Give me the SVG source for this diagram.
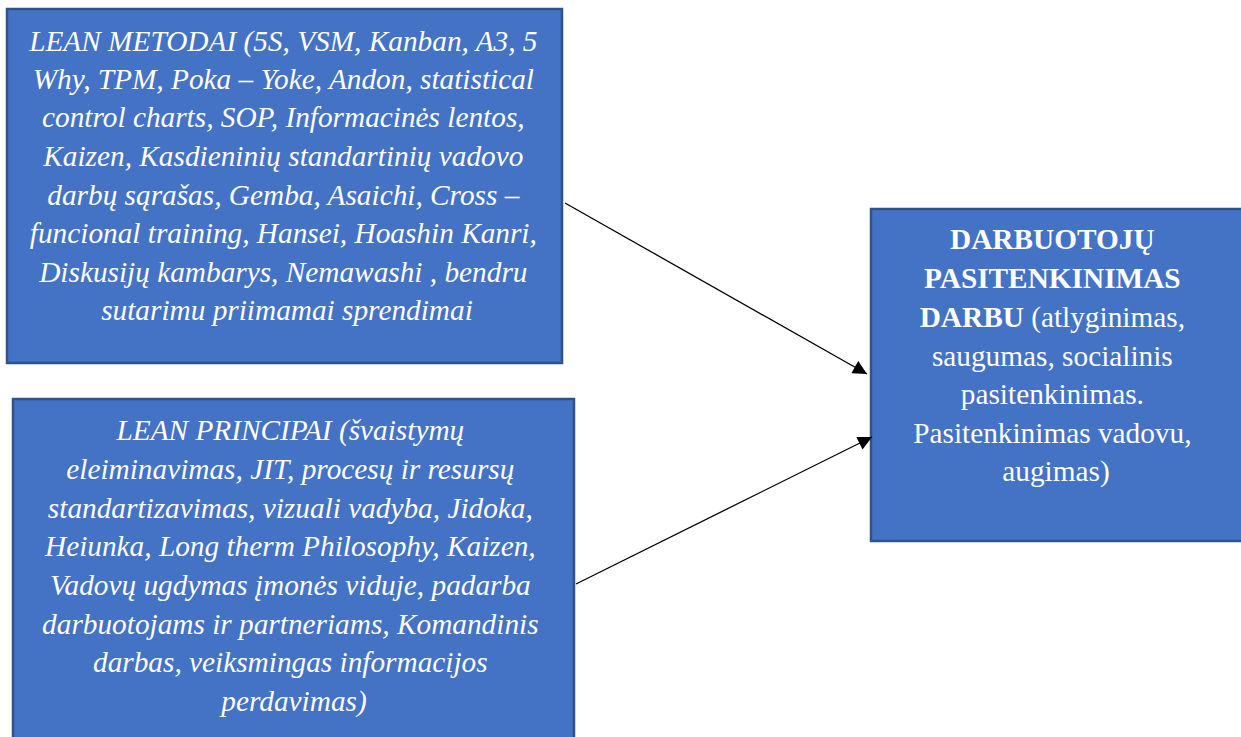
<svg xmlns="http://www.w3.org/2000/svg" width="1241" height="737" viewBox="0 0 1241 737">
<style>
.box{fill:#4472C4;stroke:#2F528F;stroke-width:2.5}
.t{font-family:"Liberation Serif","Times New Roman",serif;font-size:29.3px;fill:#fff;text-anchor:middle}
.i{font-style:italic}
.b{font-weight:bold}
.c{stroke:#000;stroke-width:1.3;fill:none}
</style>
<defs>
<marker id="ah" viewBox="0 0 10 10" refX="10" refY="5" markerWidth="18" markerHeight="14" markerUnits="userSpaceOnUse" orient="auto">
<path d="M0,0 L10,5 L0,10 z" fill="#000"/>
</marker>
</defs>
<rect width="1241" height="737" fill="#fff"/>
<g id="metodai">
<rect class="box" x="7" y="9" width="555" height="354"/>
<text class="t i">
<tspan x="287" y="51">LEAN METODAI (5S, VSM, Kanban, A3, 5</tspan>
<tspan x="287" y="89">Why, TPM, Poka – Yoke, Andon, statistical</tspan>
<tspan x="287" y="127">control charts, SOP, Informacinės lentos,</tspan>
<tspan x="287" y="166">Kaizen, Kasdieninių standartinių vadovo</tspan>
<tspan x="287" y="205">darbų sąrašas, Gemba, Asaichi, Cross –</tspan>
<tspan x="287" y="243">funcional training, Hansei, Hoashin Kanri,</tspan>
<tspan x="287" y="282">Diskusijų kambarys, Nemawashi , bendru</tspan>
<tspan x="287" y="320">sutarimu priimamai sprendimai</tspan>
</text>
</g>
<g id="principai">
<rect class="box" x="13" y="399" width="561" height="345"/>
<text class="t i">
<tspan x="294" y="440">LEAN PRINCIPAI (švaistymų</tspan>
<tspan x="294" y="479">eleiminavimas, JIT, procesų ir resursų</tspan>
<tspan x="294" y="518">standartizavimas, vizuali vadyba, Jidoka,</tspan>
<tspan x="294" y="556">Heiunka, Long therm Philosophy, Kaizen,</tspan>
<tspan x="294" y="595">Vadovų ugdymas įmonės viduje, padarba</tspan>
<tspan x="294" y="634">darbuotojams ir partneriams, Komandinis</tspan>
<tspan x="294" y="672">darbas, veiksmingas informacijos</tspan>
<tspan x="294" y="711">perdavimas)</tspan>
</text>
</g>
<g id="pasitenkinimas">
<rect class="box" x="871" y="209" width="380" height="332"/>
<text class="t">
<tspan x="1056" y="249" class="b">DARBUOTOJŲ</tspan>
<tspan x="1056" y="288" class="b">PASITENKINIMAS</tspan>
<tspan x="1056" y="327"><tspan class="b">DARBU</tspan> (atlyginimas,</tspan>
<tspan x="1056" y="366">saugumas, socialinis</tspan>
<tspan x="1056" y="404">pasitenkinimas.</tspan>
<tspan x="1056" y="443">Pasitenkinimas vadovu,</tspan>
<tspan x="1056" y="481">augimas)</tspan>
</text>
</g>
<g id="connectors">
<line class="c" x1="565" y1="203" x2="867" y2="374" marker-end="url(#ah)"/>
<line class="c" x1="576" y1="584" x2="872" y2="437" marker-end="url(#ah)"/>
</g>
</svg>
